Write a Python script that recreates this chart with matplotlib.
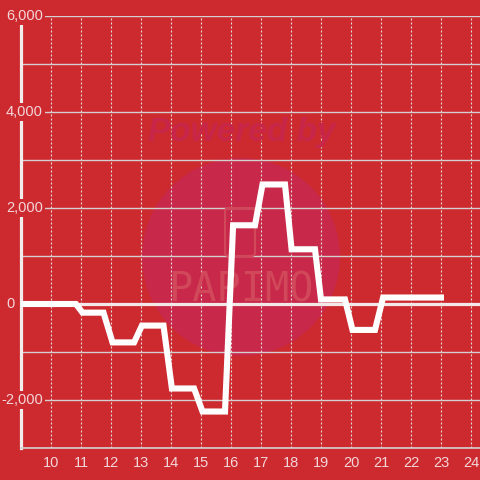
import matplotlib
matplotlib.use("Agg")
import matplotlib.pyplot as plt
from matplotlib.patches import Circle, FancyBboxPatch
from matplotlib.transforms import blended_transform_factory

# ---- data ----
times = [9.0, 10.83, 11.05, 11.75, 12.05, 12.77, 13.03, 13.75, 14.03, 14.77,
         15.05, 15.8, 16.07, 16.8, 17.05, 17.8, 18.02, 18.8, 19.0, 19.8,
         20.05, 20.8, 21.07, 23.1]
values = [0, 0, -180, -180, -800, -800, -450, -450, -1760, -1760,
          -2240, -2240, 1640, 1640, 2490, 2490, 1140, 1140, 95, 95,
          -540, -540, 135, 135]
x_ticks = list(range(10, 25))
y_grid = list(range(-3000, 7000, 1000))
y_label_vals = [6000, 4000, 2000, 0, -2000]
y_label_txt = ["6,000", "4,000", "2,000", "0", "-2,000"]

BG = "#CD2A2F"
TXT = "#F2D6D9"
GRID = "#D3CFCF"

plt.rcParams['font.family'] = ['Liberation Sans', 'DejaVu Sans']

fig = plt.figure(figsize=(4.8, 4.8), dpi=100, facecolor=BG)
L, R, B, T = 21/480, 1.0, 1 - 448/480, 1 - 16/480
ax = fig.add_axes([L, B, R - L, T - B], facecolor=BG)
ax.set_xlim(9, 9 + 459/30)
ax.set_ylim(-3000, 6000)

# watermark
circ = Circle((241/480, 1 - 257/480), 99/480, transform=fig.transFigure,
              facecolor="#C82849", edgecolor="none", zorder=0.5)
ax.add_patch(circ)
ax.text(242/480, 1 - 133/480, "Powered by", transform=fig.transFigure,
        ha="center", va="center", fontsize=24, fontweight="bold",
        fontstyle="italic", color="#C72649", zorder=0.6)
ax.text(241/480, 1 - 290/480, "PAPIMO", transform=fig.transFigure,
        ha="center", va="center", fontsize=29, family="DejaVu Sans Mono",
        color="#D0485A", zorder=0.6)
icon = FancyBboxPatch((225/480, 1 - 256/480), 30/480, 48/480,
                      boxstyle="round,pad=0,rounding_size=0.008",
                      transform=fig.transFigure, facecolor="none",
                      edgecolor="#D0485A", lw=1.6, zorder=0.6)
ax.add_patch(icon)

# grid
ax.set_yticks(y_grid)
ax.set_xticks(x_ticks)
ax.grid(axis="y", color=GRID, lw=1.0, zorder=1)
ax.grid(axis="x", color="#E6DCDC", lw=0.8, linestyle=(0, (1.8, 1.8)), zorder=1)
ax.set_axisbelow(True)
ax.axhline(0, color="#F2E8E8", lw=2.3, zorder=2)

ax.tick_params(axis="y", length=0, labelleft=False)
ax.tick_params(axis="x", length=0, pad=5.5, labelsize=10.5, labelcolor=TXT)

for s in ["top", "right"]:
    ax.spines[s].set_visible(False)
ax.spines["left"].set_color("#F3ECEC")
ax.spines["left"].set_linewidth(2.3)
ax.spines["bottom"].set_color(GRID)
ax.spines["bottom"].set_linewidth(1.2)

# y labels inside with background box
tr = blended_transform_factory(ax.transAxes, ax.transData)
for v, t in zip(y_label_vals, y_label_txt):
    xr = (43 - 21) / 459 if v != 0 else (15 - 21) / 459
    ax.text(xr, v, t, transform=tr, ha="right", va="center", fontsize=10.5,
            color=TXT, zorder=3,
            bbox=dict(boxstyle="square,pad=0.12", fc=BG, ec="none"))

ax.plot(times, values, color="white", lw=4.4, solid_joinstyle="miter",
        solid_capstyle="butt", zorder=4, clip_on=False)

fig.savefig("out.png", dpi=100, facecolor=BG)
